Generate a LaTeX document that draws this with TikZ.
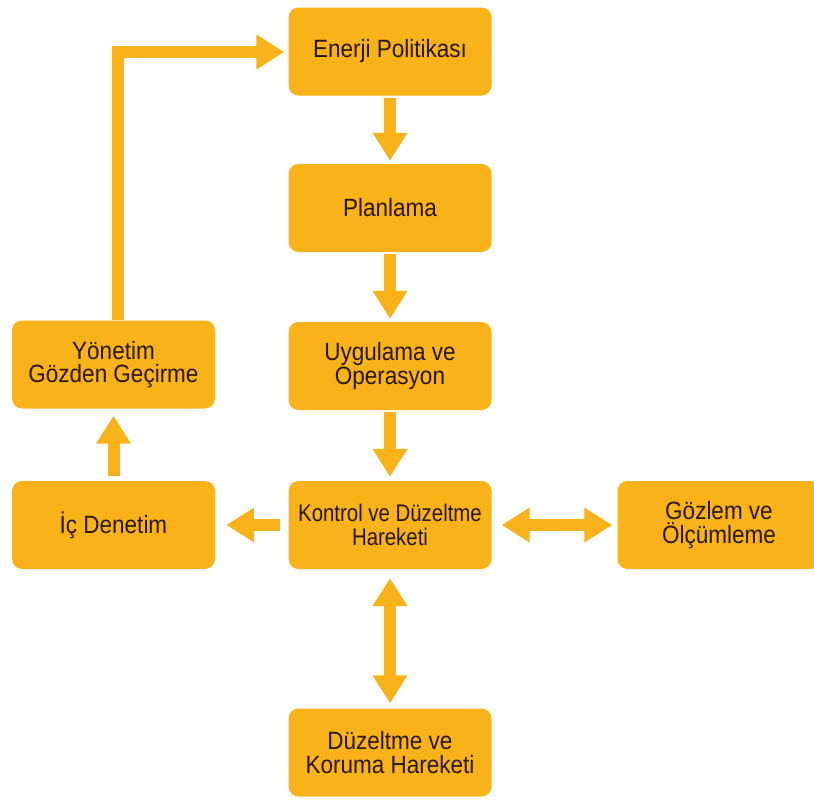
\documentclass[tikz,border=0pt]{standalone}
\usepackage{fontspec}
\setmainfont{Liberation Sans}[FakeStretch=0.9]
\newfontfamily\narrowfont{Liberation Sans}[FakeStretch=0.85]
\usetikzlibrary{arrows.meta}
\definecolor{boxfill}{RGB}{249,178,26}
\definecolor{txt}{RGB}{40,24,4}
\tikzset{
  box/.style={fill=boxfill, rounded corners=10pt, minimum width=203pt, minimum height=88pt,
    inner sep=0pt, align=center, text=txt, font=\fontsize{25}{23.5}\selectfont},
  fat/.style={draw=boxfill, line width=12pt, -{Triangle[width=33pt,length=28pt]}},
  fatboth/.style={draw=boxfill, line width=12pt, {Triangle[width=33pt,length=28pt]}-{Triangle[width=33pt,length=28pt]}}
}
\begin{document}
\begin{tikzpicture}[x=1pt,y=-1pt]
\clip (0,0) rectangle (814,803);
\fill[white] (0,0) rectangle (814,803);
\node[box] (en) at (390,51.5) {Enerji Politikası};
\node[box] (pl) at (390,208) {Planlama};
\node[box] (uy) at (390,366) {Uygulama ve\\Operasyon};
\node[box, font=\narrowfont\fontsize{24}{24}\selectfont] (ko) at (390,525) {Kontrol ve Düzeltme\\Hareketi};
\node[box] (go) at (719,525) {Gözlem ve\\Ölçümleme};
\node[box] (ic) at (113.5,525) {İç Denetim};
\node[box] (yo) at (113.5,364.5) {Yönetim\\Gözden Geçirme};
\node[box] (du) at (390,752.5) {Düzeltme ve\\Koruma Hareketi};
\coordinate (corner) at (117.5,52);
\draw[fat, shorten <=2pt, shorten >=3pt] (en) -- (pl);
\draw[fat, shorten <=2pt, shorten >=3pt] (pl) -- (uy);
\draw[fat, shorten <=2pt, shorten >=4pt] (uy) -- (ko);
\draw[fat, shorten <=8pt, shorten >=11pt] (ko) -- (ic);
\draw[fat, shorten <=5pt, shorten >=7pt] (ic) -- (yo);
\draw[fat, shorten >=4pt] (yo.north -| corner) -- (corner) -- (en.west |- corner);
\draw[fatboth, shorten <=10pt, shorten >=5pt] (ko) -- (go);
\draw[fatboth, shorten <=9pt, shorten >=5pt] (ko) -- (du);
\end{tikzpicture}
\end{document}
